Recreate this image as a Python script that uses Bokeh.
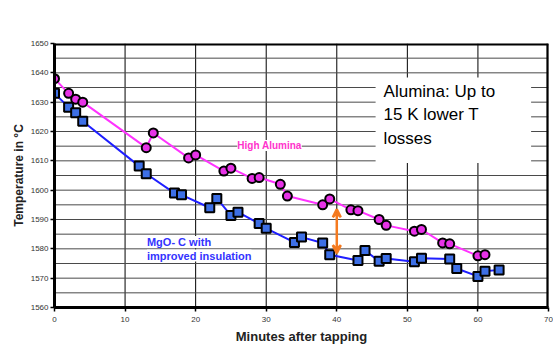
from bokeh.plotting import figure
from bokeh.models import Label, Arrow, VeeHead, FixedTicker, Range1d
from bokeh.embed import file_html
from bokeh.resources import INLINE

# --- data ---
alumina_x = [0, 2, 3, 4, 13, 14, 19, 20, 24, 25, 28, 29, 32, 33, 38, 39, 42, 43, 46, 47, 51, 52, 55, 56, 60, 61]
alumina_y = [1638, 1633, 1631, 1630, 1614.5, 1619.5, 1611, 1612, 1606.5, 1607.5, 1604, 1604.3,
             1602, 1598, 1595, 1597, 1593.3, 1593, 1590, 1588, 1586, 1586.6, 1582, 1581.7, 1577.6, 1578]
mgo_x = [0, 2, 3, 4, 12, 13, 17, 18, 22, 23, 25, 26, 29, 30, 34, 35, 38, 39, 43, 44, 46, 47,
         51, 52, 56, 57, 60, 61, 63]
mgo_y = [1633, 1628.3, 1626.4, 1623.5, 1608.2, 1605.6, 1599, 1598.4, 1594, 1597.2, 1591.4, 1592.5,
         1588.6, 1587, 1582.2, 1584, 1582, 1578, 1576, 1579.4, 1575.8, 1576.7, 1575.6, 1576.8,
         1576.5, 1573.3, 1570.6, 1572.4, 1572.8]
x_ticks = [0, 10, 20, 30, 40, 50, 60, 70]
y_ticks = [1560, 1570, 1580, 1590, 1600, 1610, 1620, 1630, 1640, 1650]
y_minor = [1565, 1575, 1585, 1595, 1605, 1615, 1625, 1635, 1645]
x_min, x_max = 0, 70
y_min, y_max = 1560, 1650
gap_x = 40
gap_top = 1593.5
gap_bottom = 1578.5

FONT = "Liberation Sans"

p = figure(width=553, height=347, output_backend="svg", toolbar_location=None,
           x_range=Range1d(x_min, x_max), y_range=Range1d(y_min, y_max),
           min_border_left=54, min_border_right=5, min_border_top=43, min_border_bottom=40)

p.outline_line_color = None
p.background_fill_color = None
p.border_fill_color = None
p.grid.visible = False

# axes
p.xaxis.ticker = FixedTicker(ticks=x_ticks)
p.yaxis.ticker = FixedTicker(ticks=y_ticks)
for ax in (p.xaxis[0], p.yaxis[0]):
    ax.axis_line_width = 3
    ax.axis_line_color = "black"
    ax.major_tick_line_color = "black"
    ax.major_tick_line_width = 1.5
    ax.major_tick_in = 0
    ax.major_tick_out = 4
    ax.minor_tick_line_color = None
    ax.major_label_text_font = FONT
    ax.major_label_text_font_size = "8px"
    ax.major_label_text_color = "#333333"
    ax.axis_label_text_font = FONT
    ax.axis_label_text_font_style = "bold"
    ax.axis_label_text_color = "#222222"
p.xaxis.axis_label = "Minutes after tapping"
p.xaxis.axis_label_text_font_size = "13px"
p.xaxis.axis_label_standoff = 4
p.xaxis.major_label_standoff = 5
p.yaxis.axis_label = "Temperature in °C"
p.yaxis.axis_label_text_font_size = "12px"
p.yaxis.axis_label_standoff = 2
p.yaxis.major_label_standoff = 2

# invisible first renderer
p.line(mgo_x, mgo_y, line_alpha=0)

# grid lines from the tick arrays
hy = sorted(y_ticks + y_minor)
p.multi_line(xs=[[v, v] for v in x_ticks], ys=[[y_min, y_max] for _ in x_ticks],
             line_color="black", line_width=1)
p.multi_line(xs=[[x_min, x_max] for _ in hy], ys=[[v, v] for v in hy],
             line_color="#4a4a4a", line_width=1)

# frame border on top and right
p.vbar(x=[x_max], width=0.6, bottom=y_min, top=y_max, fill_color="black", line_color=None)
p.hbar(y=[y_max], height=1.4, left=x_min, right=x_max, fill_color="black", line_color=None)

# series
p.line(alumina_x, alumina_y, line_color="#ff33ff", line_width=2)
p.scatter(alumina_x, alumina_y, marker="circle", size=9, fill_color="#e632e6",
          line_color="black", line_width=2)
p.line(mgo_x, mgo_y, line_color="#1f1fff", line_width=2)
p.scatter(mgo_x, mgo_y, marker="square", size=9, fill_color="#3d6fe6",
          line_color="black", line_width=2)

# arrow
p.add_layout(Arrow(x_start=gap_x, y_start=gap_top, x_end=gap_x, y_end=gap_bottom,
                   line_color="#f57a1f", line_width=2.5,
                   start=VeeHead(size=8, line_color="#f57a1f", line_width=2.5),
                   end=VeeHead(size=8, line_color="#f57a1f", line_width=2.5)))

# title (screen units are relative to the plot frame)
p.add_layout(Label(x=221.5, y=295, x_units="screen", y_units="screen",
                   text="Temperature profile of steel whithout treatment",
                   text_font=FONT, text_font_size="12px", text_font_style="bold",
                   text_color="#222222", text_baseline="middle", text_align="center"))

# labels
p.add_layout(Label(x=25.9, y=1615.2, text="High Alumina", text_font=FONT, text_font_size="10px",
                   text_font_style="bold", text_color="#ff33cc", background_fill_color="white",
                   text_baseline="alphabetic"))
for t, yy in (("MgO- C with", 1582.3), ("improved insulation", 1577.7)):
    p.add_layout(Label(x=13.1, y=yy, text=t, text_font=FONT, text_font_size="11px",
                       text_font_style="bold", text_color="#3333ff", background_fill_color="white",
                       text_baseline="alphabetic"))
p.add_layout(Label(x=45.5, y=1638.4, text="Alumina: Up to\n15 K lower T\nlosses",
                   text_font=FONT, text_font_size="17px", text_color="black",
                   text_baseline="top", text_line_height=1.25,
                   background_fill_color="white",
                   padding=dict(left=8, right=36, top=4, bottom=15)))

open("out.html", "w").write(file_html(p, INLINE))
